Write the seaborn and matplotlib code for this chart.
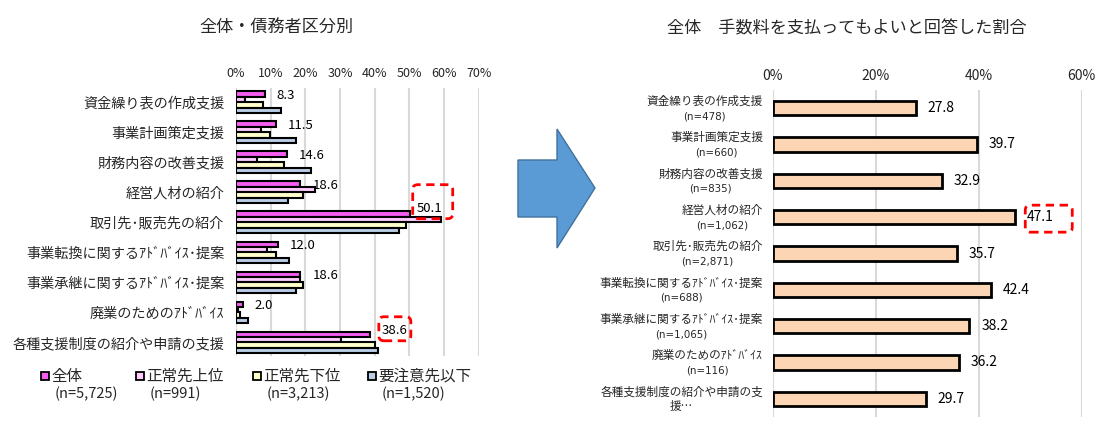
import matplotlib
matplotlib.use('Agg')
import matplotlib.pyplot as plt
import numpy as np
import pandas as pd
import seaborn as sns
from matplotlib.patches import FancyBboxPatch, Polygon
from matplotlib.transforms import IdentityTransform, blended_transform_factory
from matplotlib.lines import Line2D

# ---------------- data ----------------
categories = ['資金繰り表の作成支援', '事業計画策定支援', '財務内容の改善支援', '経営人材の紹介',
              '取引先･販売先の紹介', '事業転換に関するｱﾄﾞﾊﾞｲｽ･提案', '事業承継に関するｱﾄﾞﾊﾞｲｽ･提案',
              '廃業のためのｱﾄﾞﾊﾞｲｽ', '各種支援制度の紹介や申請の支援']
series_names = ['全体', '正常先上位', '正常先下位', '要注意先以下']
series_n = ['(n=5,725)', '(n=991)', '(n=3,213)', '(n=1,520)']
vals_all = [8.3, 11.5, 14.6, 18.6, 50.1, 12.0, 18.6, 2.0, 38.6]
vals_upper = [2.6, 7.2, 6.0, 22.9, 59.1, 9.0, 18.4, 0.6, 30.3]
vals_lower = [7.8, 9.8, 13.9, 19.2, 48.9, 11.4, 19.2, 1.2, 40.2]
vals_caution = [13.0, 17.3, 21.5, 15.1, 47.1, 15.3, 17.3, 3.5, 41.0]
left_ticks = [0, 10, 20, 30, 40, 50, 60, 70]

right_categories = ['資金繰り表の作成支援', '事業計画策定支援', '財務内容の改善支援', '経営人材の紹介',
                    '取引先･販売先の紹介', '事業転換に関するｱﾄﾞﾊﾞｲｽ･提案', '事業承継に関するｱﾄﾞﾊﾞｲｽ･提案',
                    '廃業のためのｱﾄﾞﾊﾞｲｽ', '各種支援制度の紹介や申請の支']
right_n = ['(n=478)', '(n=660)', '(n=835)', '(n=1,062)', '(n=2,871)', '(n=688)', '(n=1,065)',
           '(n=116)', '援…']
right_values = [27.8, 39.7, 32.9, 47.1, 35.7, 42.4, 38.2, 36.2, 29.7]
right_ticks = [0, 20, 40, 60]

left_title = '全体・債務者区分別'
right_title = '全体　手数料を支払ってもよいと回答した割合'

series_colors = ['#F55CF0', '#FFCCFF', '#FFFFCC', '#B9CDE5']
right_color = '#FCD5B5'

# ---------------- style ----------------
sns.set_style('white')
plt.rcParams['font.family'] = ['Noto Sans CJK JP', 'DejaVu Sans']

W, H = 1116, 444
fig = plt.figure(figsize=(W / 100, H / 100), dpi=100)

def px_axes(x0, y0, x1, y1):
    return fig.add_axes([x0 / W, 1 - y1 / H, (x1 - x0) / W, (y1 - y0) / H])

axL = px_axes(236, 88, 478.7, 356)
axR = px_axes(772.7, 90, 1081.7, 417)

# ---------------- left chart ----------------
df_left = pd.DataFrame({
    'category': categories * 4,
    'series': sum([[s] * len(categories) for s in series_names], []),
    'value': vals_all + vals_upper + vals_lower + vals_caution,
})
sns.barplot(data=df_left, y='category', x='value', hue='series', order=categories,
            hue_order=series_names, palette=series_colors, orient='h', width=0.72,
            edgecolor='black', linewidth=1.5, saturation=1, legend=False, ax=axL)
axL.set_xlim(0, 70)
axL.set_ylim(8.45, -0.47)
axL.set_xticks(left_ticks)
axL.set_xticklabels([f'{t}%' for t in left_ticks])
axL.xaxis.tick_top()
axL.tick_params(axis='x', length=0, pad=6, labelsize=9)
axL.tick_params(axis='y', length=0, pad=8.5, labelsize=10.2)
axL.xaxis.grid(True, color='#D9D9D9', lw=1.5)
axL.yaxis.grid(False)
axL.set_axisbelow(True)
axL.set_xlabel('')
axL.set_ylabel('')
for sp in axL.spines.values():
    sp.set_visible(False)

label_offsets = {4: (5, 4), 8: (8.5, 3)}
for i, bar in enumerate(axL.containers[0]):
    v = bar.get_width()
    y = bar.get_y() + bar.get_height() / 2
    off = label_offsets.get(i, (8.5, -1))
    axL.annotate(f'{v:.1f}', (v, y), xytext=off, textcoords='offset points',
                 ha='left', va='center', fontsize=9.5, color='black')

# ---------------- right chart ----------------
df_right = pd.DataFrame({'label': right_categories, 'value': right_values})
sns.barplot(data=df_right, y='label', x='value', order=right_categories, color=right_color,
            orient='h', width=0.4, edgecolor='black', linewidth=2, saturation=1, ax=axR)
axR.set_xlim(0, 60)
axR.set_ylim(8.5, -0.5)
axR.set_xticks(right_ticks)
axR.set_xticklabels([f'{t}%' for t in right_ticks])
axR.xaxis.tick_top()
axR.tick_params(axis='x', length=0, pad=5, labelsize=10)
axR.tick_params(axis='y', length=0, labelleft=False)
axR.xaxis.grid(True, color='#D9D9D9', lw=1.5)
axR.yaxis.grid(False)
axR.set_axisbelow(True)
axR.set_xlabel('')
axR.set_ylabel('')
for sp in axR.spines.values():
    sp.set_visible(False)

# first line of each category label, right-aligned at the axis
blend = blended_transform_factory(axR.transAxes, axR.transData)
first_lines = []
for loc, cat in zip(axR.get_yticks(), right_categories):
    t1 = axR.annotate(cat, (0, loc), xycoords=blend, xytext=(-7, 5), textcoords='offset points',
                      ha='right', va='center', fontsize=8.4, annotation_clip=False)
    first_lines.append(t1)

for bar in axR.containers[0]:
    v = bar.get_width()
    y = bar.get_y() + bar.get_height() / 2
    axR.annotate(f'{v:.1f}', (v, y), xytext=(8.5, 0), textcoords='offset points',
                 ha='left', va='center', fontsize=10, color='black')

# ---------------- titles ----------------
fig.text(276.5 / W, 1 - 28 / H, left_title, ha='center', va='center', fontsize=12.3)
fig.text(847 / W, 1 - 28 / H, right_title, ha='center', va='center', fontsize=12.3)

# ---------------- legend (left chart) ----------------
leg_x = [45, 140, 257, 372]
for x, name, n, c in zip(leg_x, series_names, series_n, series_colors):
    fig.add_artist(Line2D([x / W], [1 - 376 / H], transform=fig.transFigure, marker='s',
                          markersize=6, markerfacecolor=c, markeredgecolor='black',
                          markeredgewidth=1.3, linestyle='none'))
    fig.text((x + 6) / W, 1 - 376 / H, name, ha='left', va='center', fontsize=11.2)
    fig.text((x + 10) / W, 1 - 394 / H, n, ha='left', va='center', fontsize=10.5)

# ---------------- arrow ----------------
arrow_px = [(518, 160), (557, 160), (557, 129), (595, 188), (557, 248), (557, 217), (518, 217)]
fig.add_artist(Polygon([(x / W, 1 - y / H) for x, y in arrow_px], closed=True,
                       transform=fig.transFigure, facecolor='#5B9BD5', edgecolor='#41719C', lw=1))

# ---------------- after layout: second label lines + highlight boxes ----------------
fig.canvas.draw()
renderer = fig.canvas.get_renderer()

# second line centred under the measured first line
for t1, n in zip(first_lines, right_n):
    bb = t1.get_window_extent(renderer)
    cx = 0.5 * (bb.x0 + bb.x1)
    cy = 0.5 * (bb.y0 + bb.y1) - 15
    if n.startswith('('):
        fig.text(cx, cy, n, transform=IdentityTransform(), ha='center', va='center',
                 fontsize=7.4, family=['DejaVu Sans'])
    else:
        fig.text(cx, cy, n, transform=IdentityTransform(), ha='center', va='center',
                 fontsize=8.4)

def red_box(ax, bar, dx0, dx1, dy_top, dy_bot):
    v = bar.get_width()
    y = bar.get_y() + bar.get_height() / 2
    px, py = ax.transData.transform((v, y))
    x0 = px + dx0
    y0 = py - dy_bot
    box = FancyBboxPatch((x0, y0), dx1 - dx0, dy_bot + dy_top,
                         boxstyle='round,pad=0,rounding_size=5',
                         transform=IdentityTransform(), facecolor='none',
                         edgecolor='#FF0000', lw=2, linestyle=(0, (3, 2)))
    fig.add_artist(box)

red_box(axL, axL.containers[0][4], 3, 43, 29.5, 4.5)
red_box(axL, axL.containers[0][8], 9, 41, 17.6, 6.4)
red_box(axR, axR.containers[0][3], 10, 57, 12, 15)

fig.savefig('out.png', dpi=100)
